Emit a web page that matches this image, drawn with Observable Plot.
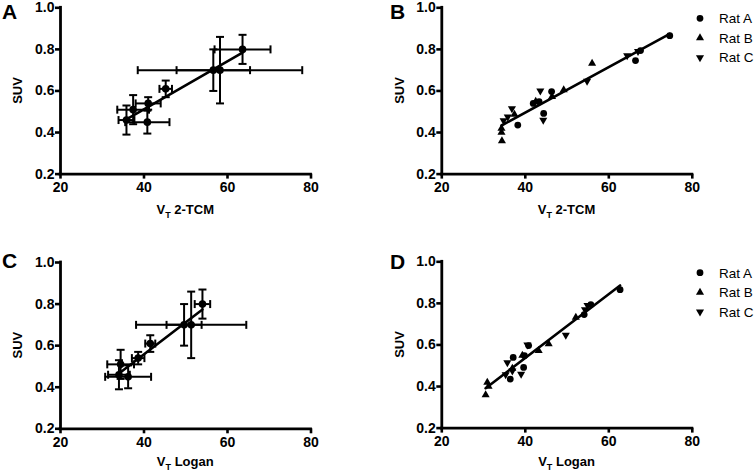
<!DOCTYPE html>
<html><head><meta charset="utf-8">
<script src="https://cdn.jsdelivr.net/npm/d3@7"></script>
<script src="https://cdn.jsdelivr.net/npm/@observablehq/plot@0.6"></script>
<style>
body{margin:0;background:#fff;}
#chart{position:relative;width:754px;height:473px;overflow:hidden;background:#fff;}
#chart svg{position:absolute;}
</style></head><body><div id="chart"></div>
<script>
// ---------- data ----------
const xTicks = [20, 40, 60, 80];
const yTicks = [0.2, 0.4, 0.6, 0.8, 1.0];
const panelLetters = ["A", "B", "C", "D"];
const xTitles = ["2-TCM", "2-TCM", "Logan", "Logan"];
const yTitle = "SUV";
const ratNames = ["Rat A", "Rat B", "Rat C"];

// mean SUV and its error (shared by panels A and C)
const suvMean = [0.80, 0.70, 0.70, 0.61, 0.54, 0.51, 0.46, 0.45];
const suvErr  = [0.07, 0.10, 0.16, 0.04, 0.03, 0.07, 0.07, 0.055];
// panel A: VT 2-TCM mean and error
const vt2tcmMean = [63.6, 56.6, 58.2, 45.2, 41.0, 37.4, 35.8, 40.8];
const vt2tcmErr  = [6.7, 8.8, 19.7, 1.5, 3.0, 3.8, 1.9, 5.3];
// panel C: VT Logan mean and error
const vtLoganMean = [54.0, 49.6, 51.3, 41.5, 38.6, 34.4, 34.0, 36.2];
const vtLoganErr  = [1.85, 4.2, 13.2, 1.2, 1.5, 3.2, 2.6, 5.5];

// individual rats (panels B and D)
const ratA_suv = [0.866, 0.794, 0.746, 0.597, 0.548, 0.540, 0.492, 0.436];
const ratB_suv = [0.733, 0.605, 0.572, 0.550, 0.487, 0.420, 0.400, 0.360];
const ratC_suv = [0.790, 0.770, 0.648, 0.600, 0.515, 0.475, 0.457, 0.460];
const ratA_2tcm = [74.6, 67.6, 66.4, 46.3, 43.3, 41.9, 44.4, 38.2];
const ratB_2tcm = [56.0, 49.2, 46.4, 42.5, 37.4, 34.3, 34.3, 34.4];
const ratC_2tcm = [67.0, 64.4, 54.8, 43.6, 36.8, 35.8, 34.8, 44.3];
const ratA_logan = [62.7, 55.7, 54.1, 40.8, 39.8, 37.1, 39.6, 36.4];
const ratB_logan = [52.1, 45.6, 43.2, 39.3, 36.9, 30.9, 31.2, 30.5];
const ratC_logan = [54.9, 54.3, 49.7, 40.5, 35.7, 36.9, 35.3, 39.0];

// ---------- helpers ----------
const sqrt3 = Math.sqrt(3);
const hcap = {draw(ctx, size) { const r = Math.sqrt(size / Math.PI); ctx.moveTo(-r, 0); ctx.lineTo(r, 0); }};
const vcap = {draw(ctx, size) { const r = Math.sqrt(size / Math.PI); ctx.moveTo(0, -r); ctx.lineTo(0, r); }};
const triDown = {draw(ctx, size) {
  const y = -Math.sqrt(size / (sqrt3 * 3));
  ctx.moveTo(0, -y * 2); ctx.lineTo(-sqrt3 * y, y); ctx.lineTo(sqrt3 * y, y); ctx.closePath();
}};
const ratSymbols = [d3.symbolCircle, d3.symbolTriangle, triDown];
const ratR = [3.4, 3.0, 3.0];

const FONT = "'Liberation Sans', Arial, Helvetica, sans-serif";
const chart = document.getElementById("chart");

function meanRows(xs, xe) {
  return xs.map((x, i) => ({x, y: suvMean[i], xe: xe[i], ye: suvErr[i]}));
}
function ratRows(xsList) {
  const suvs = [ratA_suv, ratB_suv, ratC_suv];
  return xsList.map((xs, k) => xs.map((x, i) => ({rat: ratNames[k], k, x, y: suvs[k][i]})));
}

function meanMarks(rows) {
  const sw = 2;
  return [
    Plot.ruleY(rows, {y: "y", x1: d => d.x - d.xe, x2: d => d.x + d.xe, stroke: "black", strokeWidth: sw}),
    Plot.ruleX(rows, {x: "x", y1: d => d.y - d.ye, y2: d => d.y + d.ye, stroke: "black", strokeWidth: sw}),
    Plot.dot(rows, {x: "x", y: d => d.y + d.ye, symbol: hcap, r: 4, stroke: "black", strokeWidth: sw, fill: "none"}),
    Plot.dot(rows, {x: "x", y: d => d.y - d.ye, symbol: hcap, r: 4, stroke: "black", strokeWidth: sw, fill: "none"}),
    Plot.dot(rows, {x: d => d.x + d.xe, y: "y", symbol: vcap, r: 4, stroke: "black", strokeWidth: sw, fill: "none"}),
    Plot.dot(rows, {x: d => d.x - d.xe, y: "y", symbol: vcap, r: 4, stroke: "black", strokeWidth: sw, fill: "none"}),
    Plot.linearRegressionY(rows, {x: "x", y: "y", stroke: "black", strokeWidth: 2.6, ci: 0}),
    Plot.dot(rows, {x: "x", y: "y", r: 3.8, fill: "black", stroke: "none"})
  ];
}
function ratMarks(groups) {
  const all = groups.flat();
  return [
    Plot.linearRegressionY(all, {x: "x", y: "y", stroke: "black", strokeWidth: 2.6, ci: 0}),
    ...groups.map((g, k) => Plot.dot(g, {x: "x", y: "y", symbol: ratSymbols[k], r: ratR[k], fill: "black", stroke: "none"}))
  ];
}

function panel(cfg) {
  const svg = Plot.plot({
    width: cfg.w, height: cfg.h,
    marginLeft: cfg.ml, marginRight: cfg.w - cfg.ml - 250.5, marginTop: cfg.mt, marginBottom: cfg.h - cfg.mt - 166.3,
    x: {domain: [20, 80]},
    y: {domain: [0.2, 1.0]},
    style: {fontFamily: FONT, fontSize: "14px", fontWeight: "bold", background: "white", color: "black", overflow: "visible"},
    marks: [
      ...cfg.marks,
      Plot.ruleX([20], {stroke: "black", strokeWidth: 2.8, strokeLinecap: "square"}),
      Plot.ruleY([0.2], {stroke: "black", strokeWidth: 2.8, strokeLinecap: "square"}),
      Plot.axisX({ticks: xTicks, tickSize: 5, tickPadding: 3, strokeWidth: 2.6, label: null, fontSize: 14, fontWeight: "bold", tickFormat: d3.format("d")}),
      Plot.axisY({ticks: yTicks, tickSize: 5, tickPadding: 1, strokeWidth: 2.6, label: null, fontSize: 14, fontWeight: "bold", tickFormat: d3.format(".1f")})
    ]
  });
  svg.style.left = cfg.left + "px";
  svg.style.top = cfg.top + "px";
  const s = d3.select(svg);
  // panel letter
  s.append("text").attr("x", cfg.letterX).attr("y", cfg.letterY).attr("text-anchor", "start")
    .attr("font-family", FONT).attr("font-size", 21).attr("font-weight", "bold").attr("fill", "black")
    .text(cfg.letter);
  // y title
  const yMid = cfg.mt + 166.3 / 2;
  s.append("text").attr("transform", `translate(${cfg.yTitleX},${yMid}) rotate(-90)`)
    .attr("text-anchor", "middle").attr("font-family", FONT).attr("font-size", 13).attr("font-weight", "bold").attr("fill", "black")
    .text(yTitle);
  // x title with subscript
  const xt = s.append("text").attr("x", cfg.ml + 250.5 / 2).attr("y", cfg.mt + 166.3 + cfg.xTitleOff)
    .attr("text-anchor", "middle").attr("font-family", FONT).attr("font-size", 13).attr("font-weight", "bold").attr("fill", "black");
  xt.append("tspan").text("V");
  xt.append("tspan").attr("font-size", 9).attr("dy", 4).text("T");
  xt.append("tspan").attr("dy", -4).text(" " + cfg.xTitle);
  // legend
  if (cfg.legendY != null) {
    ratNames.forEach((name, k) => {
      const y = cfg.legendY + k * 19.6;
      s.append("path").attr("transform", `translate(323,${y})`)
        .attr("d", d3.symbol(ratSymbols[k], Math.PI * ratR[k] * ratR[k])()).attr("fill", "black");
      s.append("text").attr("x", 342).attr("y", y).attr("dy", "0.36em").attr("text-anchor", "start")
        .attr("font-family", FONT).attr("font-size", 13.5).attr("font-weight", "normal").attr("fill", "black")
        .text(name);
    });
  }
  chart.appendChild(svg);
}

panel({left: 0, top: 0, w: 377, h: 236, ml: 60, mt: 7.3, marks: meanMarks(meanRows(vt2tcmMean, vt2tcmErr)),
  letter: panelLetters[0], letterX: 2, letterY: 18.5, yTitleX: 21.5, xTitle: xTitles[0], xTitleOff: 40});
panel({left: 377, top: 0, w: 377, h: 236, ml: 64.3, mt: 7.3, marks: ratMarks(ratRows([ratA_2tcm, ratB_2tcm, ratC_2tcm])),
  letter: panelLetters[1], letterX: 13, letterY: 18.5, yTitleX: 26.5, xTitle: xTitles[1], xTitleOff: 40, legendY: 18.3});
panel({left: 0, top: 236, w: 377, h: 237, ml: 60, mt: 26, marks: meanMarks(meanRows(vtLoganMean, vtLoganErr)),
  letter: panelLetters[2], letterX: 2, letterY: 32, yTitleX: 21.5, xTitle: xTitles[2], xTitleOff: 38});
panel({left: 377, top: 236, w: 377, h: 237, ml: 64.3, mt: 25.3, marks: ratMarks(ratRows([ratA_logan, ratB_logan, ratC_logan])),
  letter: panelLetters[3], letterX: 13, letterY: 33, yTitleX: 26.5, xTitle: xTitles[3], xTitleOff: 38, legendY: 36.7});
</script></body></html>
